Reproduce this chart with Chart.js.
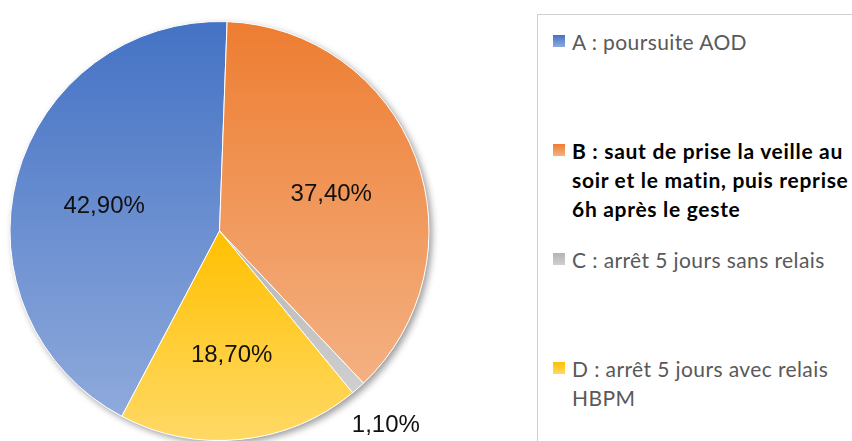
<!DOCTYPE html>
<html>
<head>
<meta charset="utf-8">
<script src="https://cdn.jsdelivr.net/npm/chart.js@4.4.1/dist/chart.umd.min.js"></script>
<style>
  html, body { margin: 0; padding: 0; background: #fff; width: 852px; height: 441px; overflow: hidden; }
  #pieWrap { position: absolute; left: 0; top: 0; width: 460px; height: 441px; }
  #legend { position: absolute; left: 537px; top: 14px; width: 340px; height: 460px;
            border: 1px solid #d0d0d0; box-sizing: border-box; }
  .item { position: absolute; left: 15px; font-family: Lato, "Open Sans", sans-serif; font-size: 21px;
          letter-spacing: 0.4px; line-height: 29px; color: #595959; white-space: pre-line; padding-left: 19px; }
  .item .sw { position: absolute; left: 0; top: 8px; width: 12px; height: 12px; }
  .item.bold { font-weight: bold; color: #000; letter-spacing: 0.7px; }
</style>
</head>
<body>
<div id="pieWrap"><canvas id="pie"></canvas></div>
<div id="legend"></div>
<script>
// values
const categories = [
  'A : poursuite AOD',
  'B : saut de prise la veille au\nsoir et le matin, puis reprise\n6h après le geste',
  'C : arrêt 5 jours sans relais',
  'D : arrêt 5 jours avec relais\nHBPM'
];
const shares = [42.9, 37.4, 1.1, 18.7];
const colorsTop = ['#4472C4', '#ED7D31', '#B4B4B4', '#FFC000'];
const colorsBottom = ['#8FAADC', '#F4B183', '#CFCFCF', '#FFD966'];
const boldIndex = 1;
const rotation = -152.2; // degrees, 0 = top

function sliceGradient(ctx) {
  const chart = ctx.chart;
  const area = chart.chartArea;
  const i = ctx.dataIndex;
  if (!area) return colorsTop[i];
  const cx = (area.left + area.right) / 2;
  const cy = (area.top + area.bottom) / 2;
  const r = Math.min(area.right - area.left, area.bottom - area.top) / 2;
  const total = shares.reduce((a, b) => a + b, 0);
  let start = rotation;
  for (let k = 0; k < i; k++) start += shares[k] / total * 360;
  const end = start + shares[i] / total * 360;
  const yAt = a => cy - r * Math.cos(a * Math.PI / 180);
  const ys = [cy, yAt(start), yAt(end)];
  for (const a of [-360, -180, 0, 180, 360, 540]) {
    if (a > start && a < end) ys.push(yAt(a));
  }
  const g = chart.ctx.createLinearGradient(0, Math.min(...ys), 0, Math.max(...ys));
  g.addColorStop(0, colorsTop[i]);
  g.addColorStop(1, colorsBottom[i]);
  return g;
}

// soft drop shadow under the pie
const pieShadow = {
  id: 'pieShadow',
  beforeDatasetsDraw(chart) {
    const arc = chart.getDatasetMeta(0).data[0];
    if (!arc) return;
    const { x, y, outerRadius } = arc.getProps(['x', 'y', 'outerRadius'], true);
    const c = chart.ctx;
    c.save();
    c.shadowColor = 'rgba(0,0,0,0.4)';
    c.shadowBlur = 7;
    c.shadowOffsetX = 3;
    c.shadowOffsetY = 3;
    c.fillStyle = '#fff';
    c.beginPath();
    c.arc(x, y, outerRadius, 0, Math.PI * 2);
    c.fill();
    c.restore();
  }
};

// percentage labels
const valueLabels = {
  id: 'valueLabels',
  afterDatasetsDraw(chart) {
    const c = chart.ctx;
    c.save();
    c.font = '24px "Liberation Sans", Arial, sans-serif';
    c.fillStyle = '#111';
    c.textAlign = 'center';
    c.textBaseline = 'middle';
    chart.getDatasetMeta(0).data.forEach((arc, i) => {
      const p = arc.getProps(['x', 'y', 'startAngle', 'endAngle', 'outerRadius'], true);
      const mid = (p.startAngle + p.endAngle) / 2;
      const f = shares[i] < 5 ? 1.2 : 0.57;
      const txt = shares[i].toFixed(2).replace('.', ',') + '%';
      c.fillText(txt, p.x + Math.cos(mid) * p.outerRadius * f, p.y + 6 + Math.sin(mid) * p.outerRadius * f);
    });
    c.restore();
  }
};

new Chart(document.getElementById('pie'), {
  type: 'pie',
  data: {
    labels: categories,
    datasets: [{
      data: shares,
      backgroundColor: sliceGradient,
      borderColor: '#fff',
      borderWidth: 1
    }]
  },
  options: {
    responsive: true,
    maintainAspectRatio: false,
    animation: false,
    rotation: rotation,
    layout: { padding: { left: 9, top: 21, right: 30, bottom: 0 } },
    plugins: { legend: { display: false }, tooltip: { enabled: false } }
  },
  plugins: [pieShadow, valueLabels]
});

// legend on the right
const legend = document.getElementById('legend');
const slot = 109;
categories.forEach((name, i) => {
  const d = document.createElement('div');
  d.className = 'item' + (i === boldIndex ? ' bold' : '');
  d.style.top = (12 + i * slot) + 'px';
  const sw = document.createElement('span');
  sw.className = 'sw';
  sw.style.background = 'linear-gradient(' + colorsTop[i] + ',' + colorsBottom[i] + ')';
  d.appendChild(sw);
  d.appendChild(document.createTextNode(name));
  legend.appendChild(d);
});
</script>
</body>
</html>
